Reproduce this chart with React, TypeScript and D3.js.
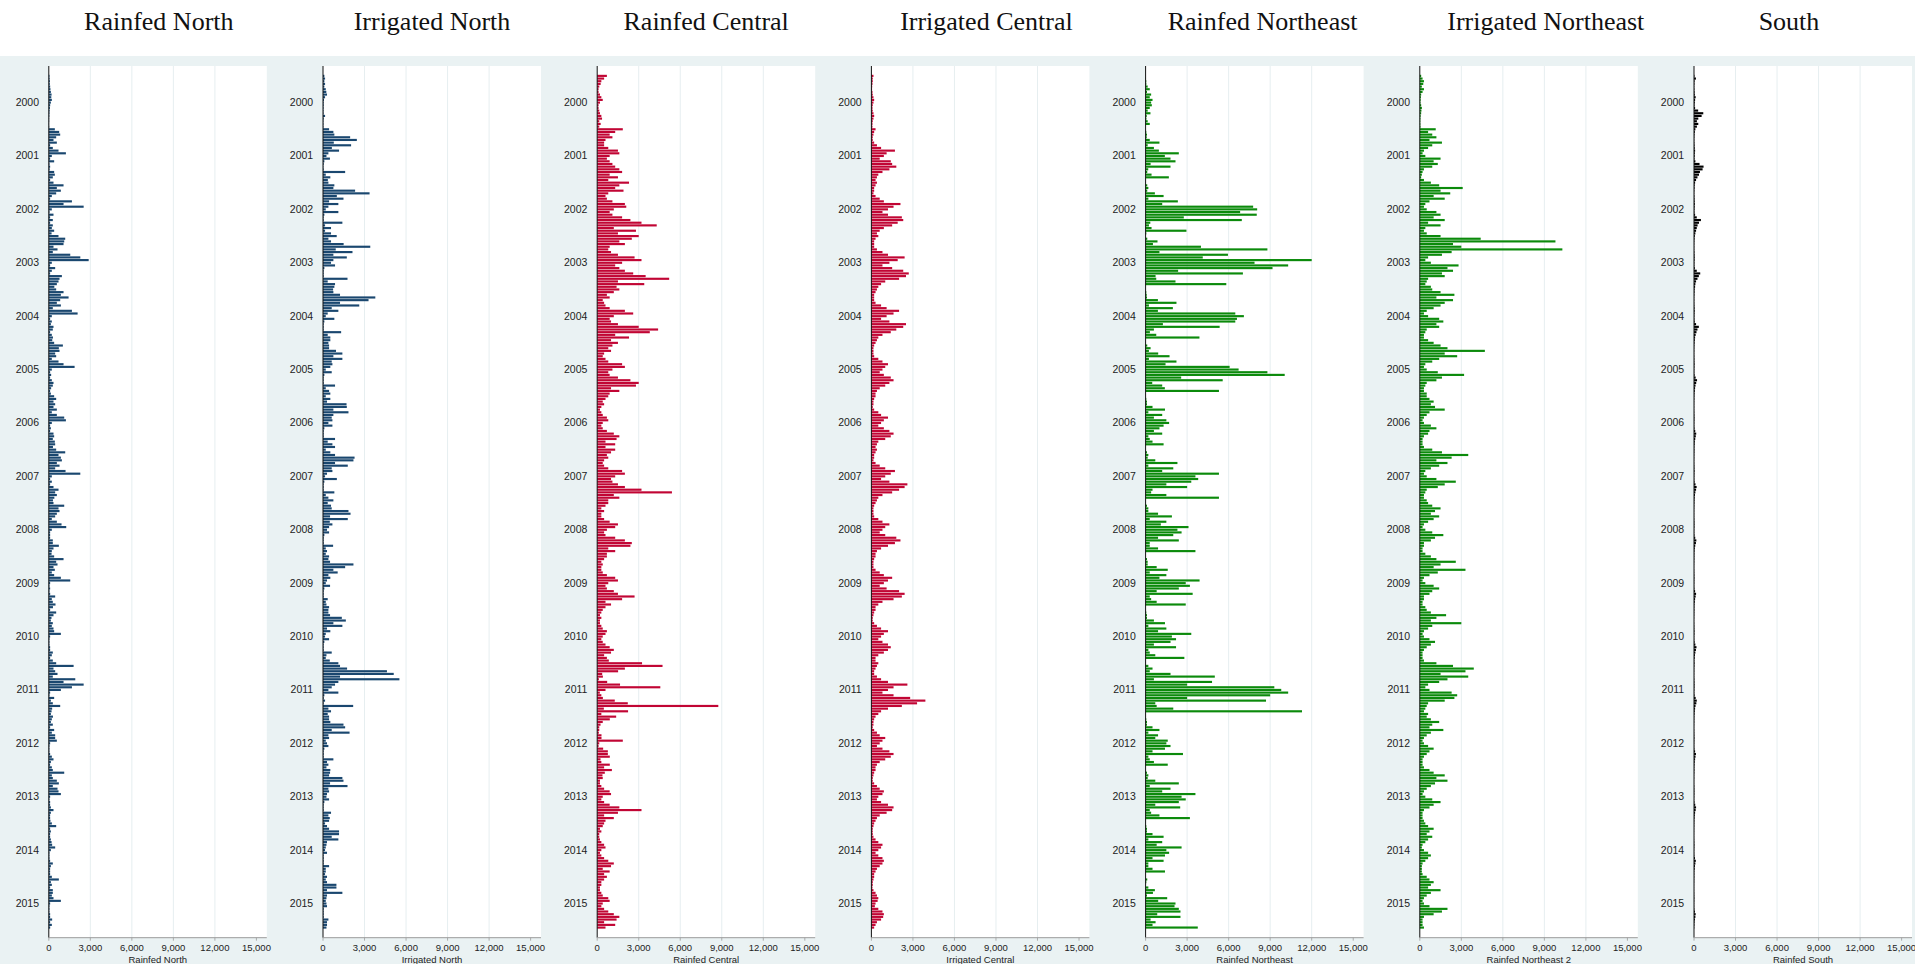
import * as d3 from "d3";

// bar periods: 20 per year, 2000-2015
const years = d3.range(2000, 2016);
const perYear = 20;
const xTicks = [0, 3000, 6000, 9000, 12000, 15000];
const gridTicks = [3000, 6000, 9000, 12000];

const titles = ["Rainfed North", "Irrigated North", "Rainfed Central", "Irrigated Central", "Rainfed Northeast", "Irrigated Northeast", "South"];
const axisTitles = ["Rainfed North", "Irrigated North", "Rainfed Central", "Irrigated Central", "Rainfed Northeast", "Rainfed Northeast 2", "Rainfed South"];
const colors = ["#1a476f", "#1a476f", "#c10534", "#c10534", "#0b8a0b", "#0b8a0b", "#000000"];

const rainfedNorth = [
  [50,60,80,70,100,120,150,200,180,220,150,100,80,60,50,40,30,30,20,30],
  [436,750,823,533,339,581,97,290,702,1235,218,97,387,48,97,60,387,436,290,97],
  [339,1065,581,870,533,218,97,1670,1065,2518,218,48,339,97,290,97,290,218,387,200],
  [700,1186,1114,1065,339,629,290,1550,2276,2881,218,97,460,218,97,944,774,702,581,400],
  [533,1065,872,1429,823,581,872,290,1670,2082,218,97,218,150,339,290,97,218,300,250],
  [387,1017,726,774,460,533,218,702,1065,1864,218,97,170,97,218,339,290,170,97,150],
  [387,533,339,460,339,581,218,581,1114,1235,218,97,150,97,339,387,290,436,460,300],
  [533,1186,702,872,944,581,775,460,1210,2276,218,97,218,97,339,702,460,581,400,300],
  [339,1114,702,774,581,460,218,581,920,1259,218,97,97,97,290,290,726,339,218,200],
  [387,1065,533,629,339,436,218,387,872,1550,97,48,97,48,100,460,218,290,484,300],
  [97,533,339,194,150,290,218,339,387,872,97,48,48,48,97,97,290,218,97,290],
  [533,1792,339,460,629,290,1913,1065,2518,1671,872,97,48,387,150,290,823,242,200,150],
  [300,220,150,290,97,387,220,460,460,581,97,48,48,48,97,220,339,150,97,220],
  [290,1114,220,290,581,726,290,629,702,872,97,48,97,97,150,339,150,97,97,120],
  [220,533,97,150,97,97,150,200,242,460,150,48,48,48,97,290,150,97,97,97],
  [220,726,150,220,97,290,290,220,339,872,97,48,48,48,97,97,242,97,220,100],
];

const irrigatedNorth = [
  [100,150,100,150,100,200,240,290,150,70,50,50,40,40,40,150,50,30,30,30],
  [440,750,820,1960,2445,780,2030,640,1160,390,250,500,100,50,30,50,1600,200,530,350],
  [390,820,750,2320,3365,1000,1480,440,1110,390,200,1110,100,50,50,1400,150,580,150,580],
  [990,390,580,1490,3415,920,2130,750,1720,750,580,870,100,50,50,50,1770,340,870,820],
  [730,750,1230,3780,3290,1230,2620,630,1110,340,200,820,100,50,50,50,1310,340,530,530],
  [390,440,440,940,1400,750,1400,630,680,530,200,630,100,50,50,50,870,200,440,530],
  [200,530,290,1700,1720,750,1840,750,630,680,390,680,100,50,50,50,870,340,680,870],
  [200,530,870,2280,2200,870,1790,630,680,290,150,1000,100,50,50,50,820,200,390,750],
  [340,580,630,1840,1990,510,1790,490,680,440,290,440,100,50,50,50,730,200,290,200],
  [440,390,510,2200,1600,750,1060,390,530,290,200,510,100,50,50,50,340,200,250,440],
  [390,390,510,1360,1650,750,1400,290,530,200,150,440,100,50,50,50,630,250,200,490],
  [1110,1230,1740,4620,5110,1230,5520,1110,870,630,390,1110,100,50,150,50,2180,390,580,340],
  [440,440,530,1480,1600,630,1920,390,440,200,290,390,100,50,50,50,750,290,390,250],
  [530,510,440,1400,1480,510,1770,390,440,290,250,440,100,50,50,50,580,390,490,440],
  [150,290,440,1160,1160,630,1110,290,250,200,150,290,50,50,50,50,440,200,200,150],
  [290,200,290,970,970,290,1400,290,250,200,250,290,50,50,50,50,390,290,290,250],
];

const rainfedCentral = [
  [700,500,300,250,150,100,100,200,300,400,200,100,100,150,200,300,350,150,250,150],
  [1850,1300,900,1100,600,500,500,800,1500,1600,900,700,900,1100,1300,1600,1800,900,1500,800],
  [2300,1600,1300,1900,800,600,700,1100,2000,2100,1200,900,1100,1800,2400,3200,4300,1200,2800,1500],
  [3000,2500,1600,2000,900,800,1000,1500,2700,3200,1800,1300,1600,2000,2600,3500,5200,1500,3400,1400],
  [1600,1200,700,900,400,500,600,900,2000,2600,1200,900,1000,1500,3000,4400,3800,1300,2300,1000],
  [1500,1100,800,1000,500,400,600,800,1800,2000,1100,800,900,1500,2400,3000,2800,1000,1600,900],
  [800,600,400,500,300,200,300,400,700,800,400,300,400,700,1200,1600,1400,600,1300,600],
  [1300,1000,700,800,500,400,500,800,1800,2000,1300,1000,1100,1500,2000,3200,5400,1200,1600,800],
  [800,600,300,500,300,300,500,900,1500,1300,700,500,600,1300,2000,2500,2400,800,1300,700],
  [700,500,300,400,300,300,400,700,1300,1500,800,600,700,1200,1500,2700,1800,600,1000,600],
  [400,300,200,300,200,200,300,400,700,600,400,300,400,600,900,1200,1000,500,700,840],
  [3240,4720,2000,1510,360,410,120,720,1650,4560,600,190,300,410,1270,2210,8750,480,2230,300],
  [1370,910,400,240,150,150,120,310,310,1850,150,100,430,770,770,910,240,300,910,500],
  [1060,550,380,400,200,200,300,500,900,1000,400,300,500,900,1600,3200,1500,500,1200,600],
  [500,400,200,300,150,150,200,300,500,600,300,200,300,500,800,1200,1000,400,900,500],
  [700,500,300,300,200,200,300,400,800,900,400,300,500,800,1200,1600,1400,500,1300,600],
];

const irrigatedCentral = [
  [150,100,100,80,60,50,80,100,150,200,150,100,80,100,150,200,150,100,80,80],
  [300,200,150,100,100,200,400,700,1700,1100,900,600,1400,1500,1800,1300,800,500,400,300],
  [400,300,200,200,150,300,600,900,2100,1600,1200,800,1200,2200,2300,1900,1500,900,600,400],
  [500,300,200,200,200,400,800,1200,2400,1900,1300,800,1500,2300,2700,2500,2000,1000,700,500],
  [400,300,200,200,200,300,700,1100,2000,1600,1100,700,1300,2500,2300,1800,1400,800,500,400],
  [300,200,150,150,150,200,500,800,1200,1000,800,600,900,1400,1600,1300,1000,600,400,300],
  [300,200,150,150,100,200,500,700,1200,900,700,500,900,1300,1600,1400,1000,500,400,300],
  [400,300,200,200,150,300,600,1000,1700,1400,1000,700,1300,2600,2400,2000,1500,800,500,400],
  [300,200,150,150,150,200,500,800,1300,1000,800,600,1000,1800,2100,1700,1200,700,400,300],
  [300,200,150,150,150,300,600,900,1500,1200,900,600,1100,2000,2400,2200,1600,800,500,300],
  [300,200,150,100,100,200,400,700,1200,900,700,500,800,1200,1400,1200,900,500,300,300],
  [500,400,300,200,200,400,700,1200,2600,1600,1200,800,1600,2800,3900,3300,2200,1200,700,500],
  [300,200,150,150,100,200,400,600,1000,800,600,400,800,1300,1600,1400,1000,600,400,300],
  [300,200,150,100,100,200,400,600,900,800,500,400,700,1200,1600,1500,1100,600,400,300],
  [200,150,100,100,100,150,300,500,800,700,500,300,500,800,900,800,600,400,300,200],
  [200,150,100,100,80,150,300,400,500,450,300,250,500,800,900,850,700,400,300,200],
];

const rainfedNortheast = [
  [0,20,50,50,150,300,100,400,300,500,400,450,300,150,350,80,60,150,300,0],
  [0,50,100,80,300,1000,150,600,960,2400,1390,1800,2160,360,1800,190,120,430,1680,0],
  [0,120,200,120,670,1300,200,2330,1200,7770,8060,6830,8030,2760,6950,340,240,430,2950,50],
  [0,120,860,530,4000,8800,1000,5950,4130,12000,7870,10300,9170,2350,7030,720,770,2160,5830,0],
  [0,50,80,100,890,2230,240,1970,890,6480,7100,6600,6480,1250,5350,600,310,770,3890,0],
  [0,120,360,240,910,1730,240,2230,1440,6070,6720,8800,10050,2570,5570,480,1200,1390,5300,0],
  [0,50,100,100,500,1400,200,1200,600,1500,1700,1300,1000,600,1200,200,300,500,1300,0],
  [0,100,200,150,700,2300,200,2000,1200,5300,3600,3800,3300,1500,3000,500,400,1500,5300,0],
  [0,100,200,200,900,1900,300,1500,1100,3100,2300,2600,2000,900,2400,300,300,900,3600,0],
  [0,100,150,150,800,1600,300,1500,1000,3900,2900,3200,2400,800,3400,300,400,800,2900,0],
  [0,50,100,100,600,1400,200,1500,900,3300,1900,2200,1800,600,2200,200,300,700,2800,0],
  [0,200,500,300,1800,5000,600,4800,3000,9300,9800,10300,9000,3000,8700,700,800,2000,11300,0],
  [0,50,100,100,500,1000,200,900,700,1600,1500,1800,1400,500,2700,200,300,600,1600,0],
  [0,100,200,150,700,2400,300,1800,1200,3600,2600,2900,2400,700,2500,300,400,1000,3200,0],
  [0,50,100,100,500,1300,200,1200,800,2600,1500,1700,1400,500,1300,200,200,500,1400,0],
  [0,120,50,0,200,670,530,100,1560,910,2160,2090,2400,2520,840,2520,360,720,500,3770],
];

const irrigatedNortheast = [
  [100,200,300,250,150,300,200,100,80,60,50,100,150,120,100,60,50,40,40,50],
  [1150,600,900,1200,700,1600,900,600,300,200,400,1500,1000,1300,900,300,200,150,100,300],
  [800,1400,3100,1500,2200,1000,1800,700,400,300,500,1200,1500,1000,1800,600,1500,400,300,500],
  [1500,4400,9800,2400,3000,10300,2300,1600,600,400,800,2800,2000,2400,1600,1800,600,500,400,800],
  [900,1500,2500,1200,2400,1800,1500,1000,500,300,600,1400,1700,1200,1400,500,400,300,300,600],
  [1000,1500,2000,4700,1800,2700,1400,900,400,300,500,1300,3200,1600,1200,500,400,300,300,500],
  [500,700,1000,800,1100,1800,700,500,300,200,300,800,1200,700,600,300,200,200,200,300],
  [900,1600,3500,2300,1200,2000,1400,800,400,300,500,1200,2600,1800,1300,500,400,300,300,500],
  [600,900,1500,1100,800,1400,1000,600,300,200,400,900,1700,1100,800,300,300,200,200,400],
  [800,1200,2600,1500,1000,3300,1300,700,300,200,400,1000,1400,900,700,300,300,200,200,400],
  [500,800,1900,1200,800,3000,900,600,300,200,300,700,1100,800,500,300,200,200,200,300],
  [1200,2400,3900,3300,1500,3500,2000,1400,600,400,700,2300,2700,2500,1800,600,500,400,300,600],
  [500,800,1400,900,700,1700,800,500,300,200,300,600,1000,700,500,300,200,200,200,300],
  [700,1000,1800,1200,2000,1100,800,500,300,200,400,900,1500,1000,700,300,200,200,200,300],
  [400,600,1000,700,500,900,600,400,200,150,300,600,800,600,400,200,150,150,150,200],
  [500,700,1000,800,600,1500,800,500,300,200,300,700,2000,1600,1000,300,200,200,200,300],
];

const south = [
  [30,140,40,30,20,30,40,60,120,80,60,40,80,300,670,550,310,210,310,210],
  [100,60,40,30,20,30,40,50,80,60,50,40,100,400,690,620,430,360,250,150],
  [80,50,40,30,20,30,40,50,60,50,40,30,80,200,500,360,260,200,150,100],
  [60,40,30,20,20,20,30,40,50,40,30,30,60,200,450,350,250,150,100,80],
  [50,40,30,20,20,20,30,40,50,40,30,30,50,150,350,250,180,120,80,60],
  [40,30,20,20,15,20,25,30,40,30,25,20,40,120,220,160,110,80,60,40],
  [30,25,20,15,15,15,20,25,35,30,20,20,35,90,160,130,90,60,50,30],
  [35,30,20,20,15,15,25,30,40,30,25,20,40,110,190,150,100,70,50,40],
  [30,25,20,15,15,15,20,30,35,30,20,20,30,90,170,140,90,60,40,30],
  [30,25,20,15,10,15,20,25,30,25,20,15,30,80,150,120,80,60,40,30],
  [30,25,20,15,10,15,20,25,35,30,20,20,40,100,180,140,100,70,50,30],
  [40,30,20,20,15,15,25,30,40,35,25,20,40,120,200,170,110,80,60,40],
  [30,25,20,15,10,15,20,25,30,25,20,15,30,80,140,110,80,50,40,30],
  [30,25,15,15,10,10,20,25,30,25,20,15,30,90,150,120,80,60,40,30],
  [25,20,15,15,10,10,15,20,30,25,15,15,25,70,130,100,70,50,30,25],
  [25,20,15,10,10,10,15,20,25,20,15,15,25,70,120,100,70,40,30,20],
];

const panels = [rainfedNorth, irrigatedNorth, rainfedCentral, irrigatedCentral, rainfedNortheast, irrigatedNortheast, south];

const W = 1915, H = 964;
const bandTop = 56;
const plotTop = 66, plotBottom = 937.7;
const firstLeft = 48.8, panelStep = 274.2, plotW = 218;
const titleShift = [1, 0, 0, 6, 8, 17, -14];

const y = d3.scaleLinear().domain([-3.7, 322.8]).range([plotTop, plotBottom]);
const barH = 2.15;
const sans = "'Liberation Sans', Arial, Helvetica, sans-serif";

function Panel({ i }: { i: number }) {
  const left = firstLeft + panelStep * i;
  const x = d3.scaleLinear().domain([0, 15750]).range([left, left + plotW]);
  const values = panels[i].flat();
  return (
    <g>
      <rect x={left} y={plotTop} width={plotW} height={plotBottom - plotTop} fill="#ffffff" />
      {gridTicks.map((t) => (
        <line key={t} x1={x(t)} x2={x(t)} y1={plotTop} y2={plotBottom} stroke="#e6eef0" strokeWidth={1} />
      ))}
      {values.map((v, k) =>
        v > 0 ? (
          <rect key={k} x={x(0)} y={y(k) - barH / 2} width={x(v) - x(0)} height={barH} fill={colors[i]} />
        ) : null
      )}
      <line x1={left} x2={left} y1={plotTop} y2={plotBottom} stroke="#111" strokeWidth={1} />
      <line x1={left} x2={left + plotW} y1={plotBottom} y2={plotBottom} stroke="#9a9a9a" strokeWidth={1} />
      {xTicks.map((t) => (
        <g key={t}>
          <line x1={x(t)} x2={x(t)} y1={plotBottom} y2={plotBottom + 3} stroke="#9a9a9a" strokeWidth={0.8} />
          <text x={x(t)} y={951} textAnchor="middle" fontSize={9.5} fontFamily={sans} fill="#222">
            {d3.format(",")(t)}
          </text>
        </g>
      ))}
      <text x={left + plotW / 2} y={962.5} textAnchor="middle" fontSize={9.5} fontFamily={sans} fill="#222">
        {axisTitles[i]}
      </text>
      {years.map((yr, n) => (
        <text key={yr} x={left - 9.8} y={y(n * perYear + 9.9)} dy="0.36em" textAnchor="end" fontSize={10.5} fontFamily={sans} fill="#222">
          {yr}
        </text>
      ))}
      <text x={left + plotW / 2 + titleShift[i]} y={30} textAnchor="middle" fontSize={26} fontFamily="'Liberation Serif', 'Times New Roman', serif" fill="#111">
        {titles[i]}
      </text>
    </g>
  );
}

export default function App() {
  return (
    <svg width={W} height={H} style={{ position: "absolute", left: 0, top: 0 }}>
      <rect x={0} y={0} width={W} height={H} fill="#ffffff" />
      <rect x={0} y={bandTop} width={W} height={H - bandTop} fill="#eaf2f3" />
      {panels.map((_, i) => (
        <Panel key={i} i={i} />
      ))}
    </svg>
  );
}
